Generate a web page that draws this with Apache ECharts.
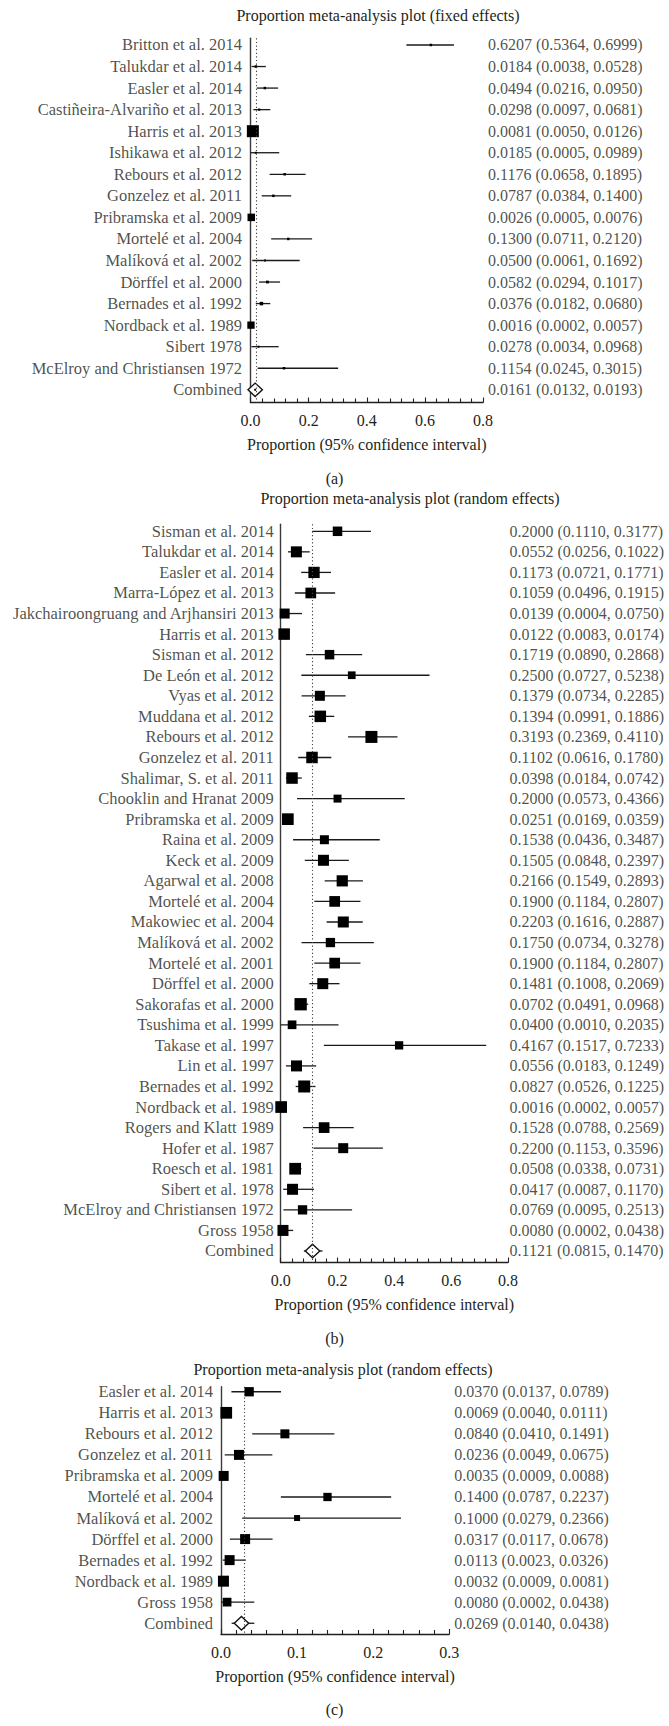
<!DOCTYPE html>
<html><head><meta charset="utf-8">
<script src="https://cdn.jsdelivr.net/npm/echarts@6/dist/echarts.min.js"></script>
<style>html,body{margin:0;padding:0;background:#fff}#c{width:669px;height:1726px}</style>
</head><body><div id="c"></div>
<script>
// ---------- DATA ----------
const titleFixed = "Proportion meta-analysis plot (fixed effects)";
const titleRandom = "Proportion meta-analysis plot (random effects)";
const axisName = "Proportion (95% confidence interval)";
const combinedName = "Combined";

// Panel (a) fixed effects
const studiesA = ["Britton et al. 2014","Talukdar et al. 2014","Easler et al. 2014","Castiñeira-Alvariño et al. 2013","Harris et al. 2013","Ishikawa et al. 2012","Rebours et al. 2012","Gonzelez et al. 2011","Pribramska et al. 2009","Mortelé et al. 2004","Malíková et al. 2002","Dörffel et al. 2000","Bernades et al. 1992","Nordback et al. 1989","Sibert 1978","McElroy and Christiansen 1972"];
const estA = [0.6207,0.0184,0.0494,0.0298,0.0081,0.0185,0.1176,0.0787,0.0026,0.1300,0.0500,0.0582,0.0376,0.0016,0.0278,0.1154];
const loA  = [0.5364,0.0038,0.0216,0.0097,0.0050,0.0005,0.0658,0.0384,0.0005,0.0711,0.0061,0.0294,0.0182,0.0002,0.0034,0.0245];
const hiA  = [0.6999,0.0528,0.0950,0.0681,0.0126,0.0989,0.1895,0.1400,0.0076,0.2120,0.1692,0.1017,0.0680,0.0057,0.0968,0.3015];
const weightA = [4.3,4.3,4.3,3.4,100,2.8,4.3,4.3,39,4.3,2.8,5.4,8.5,37,2.8,4.3];
const combinedA = [0.0161,0.0132,0.0193];
const ticksA = [0,0.2,0.4,0.6,0.8];

// Panel (b) random effects
const studiesB = ["Sisman et al. 2014","Talukdar et al. 2014","Easler et al. 2014","Marra-López et al. 2013","Jakchairoongruang and Arjhansiri 2013","Harris et al. 2013","Sisman et al. 2012","De León et al. 2012","Vyas et al. 2012","Muddana et al. 2012","Rebours et al. 2012","Gonzelez et al. 2011","Shalimar, S. et al. 2011","Chooklin and Hranat 2009","Pribramska et al. 2009","Raina et al. 2009","Keck et al. 2009","Agarwal et al. 2008","Mortelé et al. 2004","Makowiec et al. 2004","Malíková et al. 2002","Mortelé et al. 2001","Dörffel et al. 2000","Sakorafas et al. 2000","Tsushima et al. 1999","Takase et al. 1997","Lin et al. 1997","Bernades et al. 1992","Nordback et al. 1989","Rogers and Klatt 1989","Hofer et al. 1987","Roesch et al. 1981","Sibert et al. 1978","McElroy and Christiansen 1972","Gross 1958"];
const estB = [0.2000,0.0552,0.1173,0.1059,0.0139,0.0122,0.1719,0.2500,0.1379,0.1394,0.3193,0.1102,0.0398,0.2000,0.0251,0.1538,0.1505,0.2166,0.1900,0.2203,0.1750,0.1900,0.1481,0.0702,0.0400,0.4167,0.0556,0.0827,0.0016,0.1528,0.2200,0.0508,0.0417,0.0769,0.0080];
const loB  = [0.1110,0.0256,0.0721,0.0496,0.0004,0.0083,0.0890,0.0727,0.0734,0.0991,0.2369,0.0616,0.0184,0.0573,0.0169,0.0436,0.0848,0.1549,0.1184,0.1616,0.0734,0.1184,0.1008,0.0491,0.0010,0.1517,0.0183,0.0526,0.0002,0.0788,0.1153,0.0338,0.0087,0.0095,0.0002];
const hiB  = [0.3177,0.1022,0.1771,0.1915,0.0750,0.0174,0.2868,0.5238,0.2285,0.1886,0.4110,0.1780,0.0742,0.4366,0.0359,0.3487,0.2397,0.2893,0.2807,0.2887,0.3278,0.2807,0.2069,0.0968,0.2035,0.7233,0.1249,0.1225,0.0057,0.2569,0.3596,0.0731,0.1170,0.2513,0.0438];
const weightB = [59.7,80,84.4,75.7,66.1,87.4,59.7,39.2,66.1,87.4,95.2,87.4,87.4,42.3,90.5,53.5,80,82.9,75.7,80,57.2,75.7,80,100,50,45.5,80,95.2,90.5,75.7,66.1,90.5,80,57.2,80];
const combinedB = [0.1121,0.0815,0.1470];
const ticksB = [0,0.2,0.4,0.6,0.8];

// Panel (c) random effects
const studiesC = ["Easler et al. 2014","Harris et al. 2013","Rebours et al. 2012","Gonzelez et al. 2011","Pribramska et al. 2009","Mortelé et al. 2004","Malíková et al. 2002","Dörffel et al. 2000","Bernades et al. 1992","Nordback et al. 1989","Gross 1958"];
const estC = [0.0370,0.0069,0.0840,0.0236,0.0035,0.1400,0.1000,0.0317,0.0113,0.0032,0.0080];
const loC  = [0.0137,0.0040,0.0410,0.0049,0.0009,0.0787,0.0279,0.0117,0.0023,0.0009,0.0002];
const hiC  = [0.0789,0.0111,0.1491,0.0675,0.0088,0.2237,0.2366,0.0678,0.0326,0.0081,0.0438];
const weightC = [63.2,100,59.2,73,73,50.3,26.3,73,73,88.4,55.3];
const combinedC = [0.0269,0.0140,0.0438];
const ticksC = [0,0.1,0.2,0.3];

const subLabels = ["(a)","(b)","(c)"];

// ---------- LAYOUT / STYLE ----------
const W = 669;
const FONT = "'Liberation Serif', 'Times New Roman', serif";
const FS = 16;
const FS_NAME = 16.5;
const INK = '#231f20';
const panels = [
  {title:titleFixed, studies:studiesA, est:estA, lo:loA, hi:hiA, w:weightA, comb:combinedA, ticks:ticksA,
   axL:250.5, axR:483, top:38.3, bot:402.5, gT:0.31, gB:0.59, nameD:8.5, valD:5, maxSide:12,
   tx:378, ty:15, sy:478.3, centerDot:true, minor:5},
  {title:titleRandom, studies:studiesB, est:estB, lo:loB, hi:hiB, w:weightB, comb:combinedB, ticks:ticksB,
   axL:280.7, axR:508, top:524.3, bot:1262.5, gT:0.34, gB:0.56, nameD:7, valD:1.5, maxSide:12.3,
   tx:410, ty:498.3, sy:1338.3, centerDot:false, minor:5},
  {title:titleRandom, studies:studiesC, est:estC, lo:loC, hi:hiC, w:weightC, comb:combinedC, ticks:ticksC,
   axL:221, axR:449.2, top:1386.7, bot:1634, gT:0.24, gB:0.51, nameD:8, valD:5, maxSide:11.7,
   tx:343, ty:1369, sy:1709.3, centerDot:false, minor:5}
];

const grid=[], xAxis=[], yAxis=[], series=[], graphic=[];
const fmt4 = v => v.toFixed(4);

panels.forEach((P, i) => {
  const n = P.studies.length;
  const names = P.studies.concat([combinedName]);
  const tmin = P.ticks[0], tmax = P.ticks[P.ticks.length-1];
  const interval = P.ticks[1]-P.ticks[0];
  grid.push({left:P.axL, width:P.axR-P.axL, top:P.top, height:P.bot-P.top, containLabel:false});
  xAxis.push({
    type:'value', gridIndex:i, min:tmin, max:tmax, interval:interval,
    axisLine:{show:true, onZero:false, lineStyle:{color:INK, width:1.3}},
    axisTick:{show:true, inside:true, length:5, lineStyle:{color:INK, width:1.1}},
    minorTick:{show:true, splitNumber:P.minor, length:4, lineStyle:{color:INK, width:1.1}},
    splitLine:{show:false}, minorSplitLine:{show:false},
    axisLabel:{margin:10, formatter:v=>v.toFixed(1), fontFamily:FONT, fontSize:FS, color:INK, showMinLabel:true, showMaxLabel:true},
    name:axisName, nameLocation:'middle', nameGap:34,
    nameTextStyle:{fontFamily:FONT, fontSize:FS, color:INK}
  });
  yAxis.push({
    type:'value', gridIndex:i, inverse:true, min:-P.gT, max:n+P.gB,
    axisLine:{show:true, onZero:false, lineStyle:{color:'#3a3a3a', width:1.4}},
    axisTick:{show:false}, axisLabel:{show:false}, splitLine:{show:false}
  });
  const rows = P.est.map((e,k)=>[e, P.lo[k], P.hi[k], k, P.w[k], 0]);
  rows.push([P.comb[0], P.comb[1], P.comb[2], n, 0, 1]);
  series.push({
    type:'custom', xAxisIndex:i, yAxisIndex:i, clip:false, silent:true,
    encode:{x:[0,1,2], y:3},
    data:rows,
    renderItem:(params, api) => {
      const est=api.value(0), lo=api.value(1), hi=api.value(2), k=api.value(3), w=api.value(4), isComb=api.value(5);
      const pL=api.coord([lo,k]), pR=api.coord([hi,k]), pC=api.coord([est,k]);
      const ch=[{type:'line', shape:{x1:pL[0],y1:pC[1],x2:pR[0],y2:pC[1]}, style:{stroke:'#1a1a1a', lineWidth:1.3}}];
      if (isComb) {
        const hw=7.2, hh=6.7;
        ch.push({type:'polygon', shape:{points:[[pC[0]-hw,pC[1]],[pC[0],pC[1]-hh],[pC[0]+hw,pC[1]],[pC[0],pC[1]+hh]]},
          style:{fill:'#fff', stroke:'#111', lineWidth:1.4}});
        if (P.centerDot) ch.push({type:'rect', shape:{x:pC[0]-1,y:pC[1]-1,width:2,height:2}, style:{fill:'#000'}});
      } else {
        const s = P.maxSide*Math.sqrt(w/100);
        ch.push({type:'rect', shape:{x:pC[0]-s/2, y:pC[1]-s/2, width:s, height:s}, style:{fill:'#000'}});
      }
      return {type:'group', children:ch};
    },
    markLine:{silent:true, symbol:['none','none'], animation:false,
      lineStyle:{type:[1.2,2.4], color:'#444', width:1.1},
      label:{show:false}, data:[{xAxis:P.comb[0]}]},
    z:3
  });
  // study names (left)
  series.push({
    type:'scatter', xAxisIndex:i, yAxisIndex:i, silent:true, symbolSize:0,
    data:names.map((s,k)=>[tmin,k]),
    label:{show:true, position:'left', distance:P.nameD, formatter:p=>names[p.dataIndex],
      fontFamily:FONT, fontSize:FS_NAME, color:INK}
  });
  // estimate text (right)
  const texts = P.est.map((e,k)=>fmt4(e)+' ('+fmt4(P.lo[k])+', '+fmt4(P.hi[k])+')');
  texts.push(fmt4(P.comb[0])+' ('+fmt4(P.comb[1])+', '+fmt4(P.comb[2])+')');
  series.push({
    type:'scatter', xAxisIndex:i, yAxisIndex:i, silent:true, symbolSize:0,
    data:texts.map((s,k)=>[tmax,k]),
    label:{show:true, position:'right', distance:P.valD, formatter:p=>texts[p.dataIndex],
      fontFamily:FONT, fontSize:FS, color:INK}
  });
  graphic.push({type:'text', x:P.tx, y:P.ty, silent:true,
    style:{text:P.title, align:'center', verticalAlign:'middle', fontFamily:FONT, fontSize:FS, fill:INK}});
  graphic.push({type:'text', x:W/2, y:P.sy, silent:true,
    style:{text:subLabels[i], align:'center', verticalAlign:'middle', fontFamily:FONT, fontSize:FS, fill:INK}});
});

const chart = echarts.init(document.getElementById('c'), null, {renderer:'svg', width:669, height:1726});
chart.setOption({animation:false, backgroundColor:'#fff', grid, xAxis, yAxis, series, graphic});
</script></body></html>
